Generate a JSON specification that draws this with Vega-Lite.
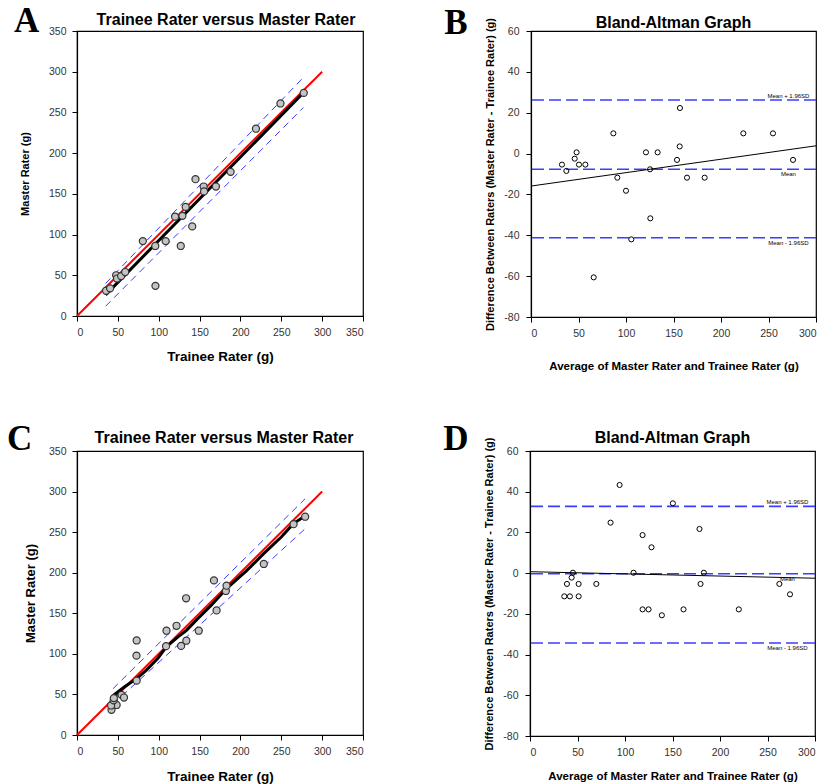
{
  "$schema": "https://vega.github.io/schema/vega-lite/v6.json",
  "padding": {"left": 6, "top": 4, "right": 0, "bottom": 0},
  "background": "white",
  "config": {
    "view": {"stroke": "black", "strokeWidth": 1.2},
    "axis": {"grid": false, "domainColor": "black", "domainWidth": 1.2, "tickColor": "black", "tickSize": 5, "tickWidth": 1, "labelFont": "Liberation Sans", "labelFontSize": 10.5, "labelColor": "#333333", "labelPadding": 6, "titleFont": "Liberation Sans", "titleFontWeight": "bold", "titleColor": "black"},
    "title": {"font": "Liberation Sans", "fontWeight": "bold", "fontSize": 16, "color": "black", "baseline": "top"}
  },
  "datasets": {
    "a_points": [
      {"trainee": 35.6, "master": 31}, {"trainee": 40.5, "master": 34}, {"trainee": 47.9, "master": 50}, {"trainee": 49, "master": 46},
      {"trainee": 54, "master": 49}, {"trainee": 59, "master": 54}, {"trainee": 80.6, "master": 92}, {"trainee": 95.8, "master": 86},
      {"trainee": 96, "master": 37}, {"trainee": 108.5, "master": 92}, {"trainee": 120, "master": 122}, {"trainee": 127, "master": 86},
      {"trainee": 129, "master": 123}, {"trainee": 133, "master": 134}, {"trainee": 141, "master": 110}, {"trainee": 145, "master": 168},
      {"trainee": 155, "master": 159}, {"trainee": 155.5, "master": 153}, {"trainee": 170, "master": 159}, {"trainee": 188, "master": 177},
      {"trainee": 219, "master": 230}, {"trainee": 249, "master": 261}, {"trainee": 277.5, "master": 274}
    ],
    "a_lines": [
      {"line": "identity", "trainee": 0, "master": 0}, {"line": "identity", "trainee": 300, "master": 300},
      {"line": "fit", "trainee": 35, "master": 26}, {"line": "fit", "trainee": 275, "master": 272},
      {"line": "upper", "trainee": 35, "master": 40}, {"line": "upper", "trainee": 277, "master": 293},
      {"line": "lower", "trainee": 35, "master": 12}, {"line": "lower", "trainee": 277, "master": 256}
    ],
    "c_points": [
      {"trainee": 42.2, "master": 31}, {"trainee": 48.5, "master": 37}, {"trainee": 41.7, "master": 36.4}, {"trainee": 44.9, "master": 42.7},
      {"trainee": 45.1, "master": 45.5}, {"trainee": 54.5, "master": 49.5}, {"trainee": 57.5, "master": 46.2}, {"trainee": 73, "master": 67},
      {"trainee": 72.8, "master": 97.8}, {"trainee": 73, "master": 116.5}, {"trainee": 109, "master": 109.5}, {"trainee": 109.5, "master": 128.5},
      {"trainee": 127.4, "master": 109.8}, {"trainee": 133.8, "master": 116.2}, {"trainee": 121.8, "master": 134.6}, {"trainee": 149, "master": 128.5},
      {"trainee": 133.5, "master": 168.5}, {"trainee": 170.8, "master": 153.5}, {"trainee": 167.6, "master": 190.5}, {"trainee": 182.2, "master": 177.5},
      {"trainee": 183, "master": 184}, {"trainee": 228.6, "master": 210.8}, {"trainee": 265, "master": 259.8}, {"trainee": 279.2, "master": 269}
    ],
    "c_lines": [
      {"line": "identity", "trainee": 0, "master": 0}, {"line": "identity", "trainee": 300, "master": 300},
      {"line": "fit", "trainee": 44, "master": 48.4}, {"line": "fit", "trainee": 58.3, "master": 59.5}, {"line": "fit", "trainee": 73.4, "master": 69.8},
      {"line": "fit", "trainee": 84.9, "master": 80}, {"line": "fit", "trainee": 99, "master": 94.4}, {"line": "fit", "trainee": 109.3, "master": 108.7},
      {"line": "fit", "trainee": 123.6, "master": 121}, {"line": "fit", "trainee": 134, "master": 129}, {"line": "fit", "trainee": 148, "master": 143.6},
      {"line": "fit", "trainee": 164.4, "master": 160}, {"line": "fit", "trainee": 183, "master": 180.5}, {"line": "fit", "trainee": 197, "master": 193},
      {"line": "fit", "trainee": 207, "master": 202}, {"line": "fit", "trainee": 228.5, "master": 223.6}, {"line": "fit", "trainee": 250, "master": 244},
      {"line": "fit", "trainee": 264.8, "master": 260.5}, {"line": "fit", "trainee": 279, "master": 270},
      {"line": "upper", "trainee": 44, "master": 57}, {"line": "upper", "trainee": 279, "master": 291},
      {"line": "lower", "trainee": 44, "master": 38}, {"line": "lower", "trainee": 279, "master": 254}
    ],
    "b_points": [
      {"avg": 32.6, "diff": -5.4}, {"avg": 37.2, "diff": -8.5}, {"avg": 46, "diff": -2.5}, {"avg": 48, "diff": 0.6},
      {"avg": 50.5, "diff": -5.4}, {"avg": 57.2, "diff": -5.4}, {"avg": 86.7, "diff": 9.9}, {"avg": 90.9, "diff": -11.8},
      {"avg": 100, "diff": -18.2}, {"avg": 105.6, "diff": -42}, {"avg": 66, "diff": -60.6}, {"avg": 121, "diff": 0.6},
      {"avg": 125.3, "diff": -7.7}, {"avg": 125.6, "diff": -31.7}, {"avg": 133.3, "diff": 0.6}, {"avg": 153.7, "diff": -3.1},
      {"avg": 156.5, "diff": 3.5}, {"avg": 156.8, "diff": 22.3}, {"avg": 164.2, "diff": -11.8}, {"avg": 182.8, "diff": -11.8},
      {"avg": 223.5, "diff": 9.9}, {"avg": 254.7, "diff": 9.9}, {"avg": 275.8, "diff": -3.1}
    ],
    "b_fit": [{"avg": 0, "diff": -15.9}, {"avg": 300, "diff": 3.8}],
    "b_limits": [{"stat": "Mean + 1.96SD", "diff": 26.2}, {"stat": "Mean", "diff": -7.7}, {"stat": "Mean - 1.96SD", "diff": -41.2}],
    "d_points": [
      {"avg": 36.1, "diff": -11.4}, {"avg": 42, "diff": -11.4}, {"avg": 38.9, "diff": -5.3}, {"avg": 43.8, "diff": -2.2},
      {"avg": 45.2, "diff": 0.2}, {"avg": 51.2, "diff": -5.3}, {"avg": 51.2, "diff": -11.4}, {"avg": 69.8, "diff": -5.3},
      {"avg": 84.8, "diff": 24.8}, {"avg": 94.3, "diff": 43.3}, {"avg": 109, "diff": 0.2}, {"avg": 118.5, "diff": 18.7},
      {"avg": 118.5, "diff": -17.8}, {"avg": 124.8, "diff": -17.8}, {"avg": 127.9, "diff": 12.7}, {"avg": 138.8, "diff": -20.7},
      {"avg": 150.4, "diff": 34.3}, {"avg": 161.6, "diff": -17.8}, {"avg": 178.4, "diff": 21.7}, {"avg": 179.5, "diff": -5.3},
      {"avg": 183, "diff": 0.2}, {"avg": 219.8, "diff": -17.8}, {"avg": 262.5, "diff": -5.3}, {"avg": 273.7, "diff": -10.4}
    ],
    "d_fit": [{"avg": 0, "diff": 0.7}, {"avg": 300, "diff": -2.5}],
    "d_limits": [{"stat": "Mean + 1.96SD", "diff": 32.8}, {"stat": "Mean", "diff": -0.3}, {"stat": "Mean - 1.96SD", "diff": -34.3}]
  },
  "spacing": 49,
  "vconcat": [
    {
      "spacing": 79,
      "hconcat": [
        {
          "title": {"text": "A", "orient": "top", "anchor": "start", "frame": "bounds", "align": "left", "baseline": "top", "font": "Liberation Serif", "fontSize": 35, "fontWeight": "bold", "offset": -28, "dx": -5},
          "hconcat": [
            {
              "width": 286, "height": 285,
              "title": {"text": "Trainee Rater versus Master Rater", "offset": -2, "dx": 6},
              "encoding": {
                "x": {"field": "trainee", "type": "quantitative", "scale": {"domain": [0, 350], "nice": false}, "axis": {"values": [0, 50, 100, 150, 200, 250, 300, 350], "title": "Trainee Rater (g)", "titleFontSize": 13.5, "titlePadding": 12}},
                "y": {"field": "master", "type": "quantitative", "scale": {"domain": [0, 350], "nice": false}, "axis": {"values": [0, 50, 100, 150, 200, 250, 300, 350], "title": "Master Rater (g)", "titleFontSize": 11, "titlePadding": 18}}
              },
              "layer": [
                {"data": {"name": "a_lines"}, "transform": [{"filter": "datum.line === 'upper'"}], "mark": {"type": "line", "color": "#3c3cff", "strokeWidth": 1, "strokeDash": [7, 5]}},
                {"data": {"name": "a_lines"}, "transform": [{"filter": "datum.line === 'lower'"}], "mark": {"type": "line", "color": "#3c3cff", "strokeWidth": 1, "strokeDash": [7, 5]}},
                {"data": {"name": "a_lines"}, "transform": [{"filter": "datum.line === 'identity'"}], "mark": {"type": "line", "color": "#ff0000", "strokeWidth": 2}},
                {"data": {"name": "a_lines"}, "transform": [{"filter": "datum.line === 'fit'"}], "mark": {"type": "line", "color": "black", "strokeWidth": 3}},
                {"data": {"name": "a_points"}, "mark": {"type": "circle", "size": 50, "fill": "#c4c4c4", "stroke": "#333333", "strokeWidth": 1.2, "opacity": 1}}
              ]
            }
          ]
        },
        {
          "title": {"text": "B", "orient": "top", "anchor": "start", "frame": "bounds", "align": "left", "baseline": "top", "font": "Liberation Serif", "fontSize": 35, "fontWeight": "bold", "offset": -27, "dx": -40},
          "hconcat": [
            {
              "width": 285, "height": 286,
              "title": {"text": "Bland-Altman Graph", "offset": -13},
              "layer": [
                {"data": {"name": "b_limits"}, "mark": {"type": "rule", "color": "#3c3cff", "strokeWidth": 1.6, "strokeDash": [12, 5]},
                 "encoding": {"y": {"field": "diff", "type": "quantitative", "scale": {"domain": [-80, 60], "nice": false}, "axis": {"values": [-80, -60, -40, -20, 0, 20, 40, 60], "labelExpr": "'' + datum.value", "title": "Difference Between Raters (Master Rater - Trainee Rater) (g)", "titleFontSize": 11, "titlePadding": 8, "labelPadding": 7}}}},
                {"data": {"name": "b_fit"}, "mark": {"type": "line", "color": "black", "strokeWidth": 1},
                 "encoding": {"x": {"field": "avg", "type": "quantitative"}, "y": {"field": "diff", "type": "quantitative"}}},
                {"data": {"name": "b_points"}, "mark": {"type": "point", "shape": "circle", "filled": false, "color": "black", "size": 26, "strokeWidth": 1, "opacity": 1},
                 "encoding": {"x": {"field": "avg", "type": "quantitative", "scale": {"domain": [0, 300], "nice": false}, "axis": {"values": [0, 50, 100, 150, 200, 250, 300], "title": "Average of Master Rater and Trainee Rater (g)", "titleFontSize": 11.5, "titlePadding": 22}}, "y": {"field": "diff", "type": "quantitative"}}},
                {"data": {"name": "b_limits"}, "transform": [{"filter": "datum.stat === 'Mean + 1.96SD'"}], "mark": {"type": "text", "fontSize": 6, "font": "Liberation Sans", "baseline": "bottom", "dy": -1, "color": "black"},
                 "encoding": {"x": {"datum": 271}, "y": {"field": "diff", "type": "quantitative"}, "text": {"field": "stat"}}},
                {"data": {"name": "b_limits"}, "transform": [{"filter": "datum.stat !== 'Mean + 1.96SD'"}], "mark": {"type": "text", "fontSize": 6, "font": "Liberation Sans", "baseline": "top", "dy": 2, "color": "black"},
                 "encoding": {"x": {"datum": 271}, "y": {"field": "diff", "type": "quantitative"}, "text": {"field": "stat"}}}
              ]
            }
          ]
        }
      ]
    },
    {
      "spacing": 78,
      "hconcat": [
        {
          "title": {"text": "C", "orient": "top", "anchor": "start", "frame": "bounds", "align": "left", "baseline": "top", "font": "Liberation Serif", "fontSize": 35, "fontWeight": "bold", "offset": -28, "dx": -17},
          "hconcat": [
            {
              "width": 286, "height": 284,
              "title": {"text": "Trainee Rater versus Master Rater", "offset": 0, "dx": 4},
              "encoding": {
                "x": {"field": "trainee", "type": "quantitative", "scale": {"domain": [0, 350], "nice": false}, "axis": {"values": [0, 50, 100, 150, 200, 250, 300, 350], "title": "Trainee Rater (g)", "titleFontSize": 13.5, "titlePadding": 13}},
                "y": {"field": "master", "type": "quantitative", "scale": {"domain": [0, 350], "nice": false}, "axis": {"values": [0, 50, 100, 150, 200, 250, 300, 350], "title": "Master Rater (g)", "titleFontSize": 13, "titlePadding": 11}}
              },
              "layer": [
                {"data": {"name": "c_lines"}, "transform": [{"filter": "datum.line === 'upper'"}], "mark": {"type": "line", "color": "#3c3cff", "strokeWidth": 1, "strokeDash": [7, 5]}},
                {"data": {"name": "c_lines"}, "transform": [{"filter": "datum.line === 'lower'"}], "mark": {"type": "line", "color": "#3c3cff", "strokeWidth": 1, "strokeDash": [7, 5]}},
                {"data": {"name": "c_lines"}, "transform": [{"filter": "datum.line === 'identity'"}], "mark": {"type": "line", "color": "#ff0000", "strokeWidth": 2}},
                {"data": {"name": "c_lines"}, "transform": [{"filter": "datum.line === 'fit'"}], "mark": {"type": "line", "color": "black", "strokeWidth": 3}},
                {"data": {"name": "c_points"}, "mark": {"type": "circle", "size": 50, "fill": "#c4c4c4", "stroke": "#333333", "strokeWidth": 1.2, "opacity": 1}}
              ]
            }
          ]
        },
        {
          "title": {"text": "D", "orient": "top", "anchor": "start", "frame": "bounds", "align": "left", "baseline": "top", "font": "Liberation Serif", "fontSize": 35, "fontWeight": "bold", "offset": -28, "dx": -40},
          "hconcat": [
            {
              "width": 285, "height": 285,
              "title": {"text": "Bland-Altman Graph", "offset": -9},
              "layer": [
                {"data": {"name": "d_limits"}, "mark": {"type": "rule", "color": "#3c3cff", "strokeWidth": 1.6, "strokeDash": [12, 5]},
                 "encoding": {"y": {"field": "diff", "type": "quantitative", "scale": {"domain": [-80, 60], "nice": false}, "axis": {"values": [-80, -60, -40, -20, 0, 20, 40, 60], "labelExpr": "'' + datum.value", "title": "Difference Between Raters (Master Rater - Trainee Rater) (g)", "titleFontSize": 11, "titlePadding": 8, "labelPadding": 7}}}},
                {"data": {"name": "d_fit"}, "mark": {"type": "line", "color": "black", "strokeWidth": 1},
                 "encoding": {"x": {"field": "avg", "type": "quantitative"}, "y": {"field": "diff", "type": "quantitative"}}},
                {"data": {"name": "d_points"}, "mark": {"type": "point", "shape": "circle", "filled": false, "color": "black", "size": 26, "strokeWidth": 1, "opacity": 1},
                 "encoding": {"x": {"field": "avg", "type": "quantitative", "scale": {"domain": [0, 300], "nice": false}, "axis": {"values": [0, 50, 100, 150, 200, 250, 300], "title": "Average of Master Rater and Trainee Rater (g)", "titleFontSize": 11.5, "titlePadding": 13}}, "y": {"field": "diff", "type": "quantitative"}}},
                {"data": {"name": "d_limits"}, "transform": [{"filter": "datum.stat === 'Mean + 1.96SD'"}], "mark": {"type": "text", "fontSize": 6, "font": "Liberation Sans", "baseline": "bottom", "dy": -1, "color": "black"},
                 "encoding": {"x": {"datum": 271}, "y": {"field": "diff", "type": "quantitative"}, "text": {"field": "stat"}}},
                {"data": {"name": "d_limits"}, "transform": [{"filter": "datum.stat !== 'Mean + 1.96SD'"}], "mark": {"type": "text", "fontSize": 6, "font": "Liberation Sans", "baseline": "top", "dy": 2, "color": "black"},
                 "encoding": {"x": {"datum": 271}, "y": {"field": "diff", "type": "quantitative"}, "text": {"field": "stat"}}}
              ]
            }
          ]
        }
      ]
    }
  ]
}
